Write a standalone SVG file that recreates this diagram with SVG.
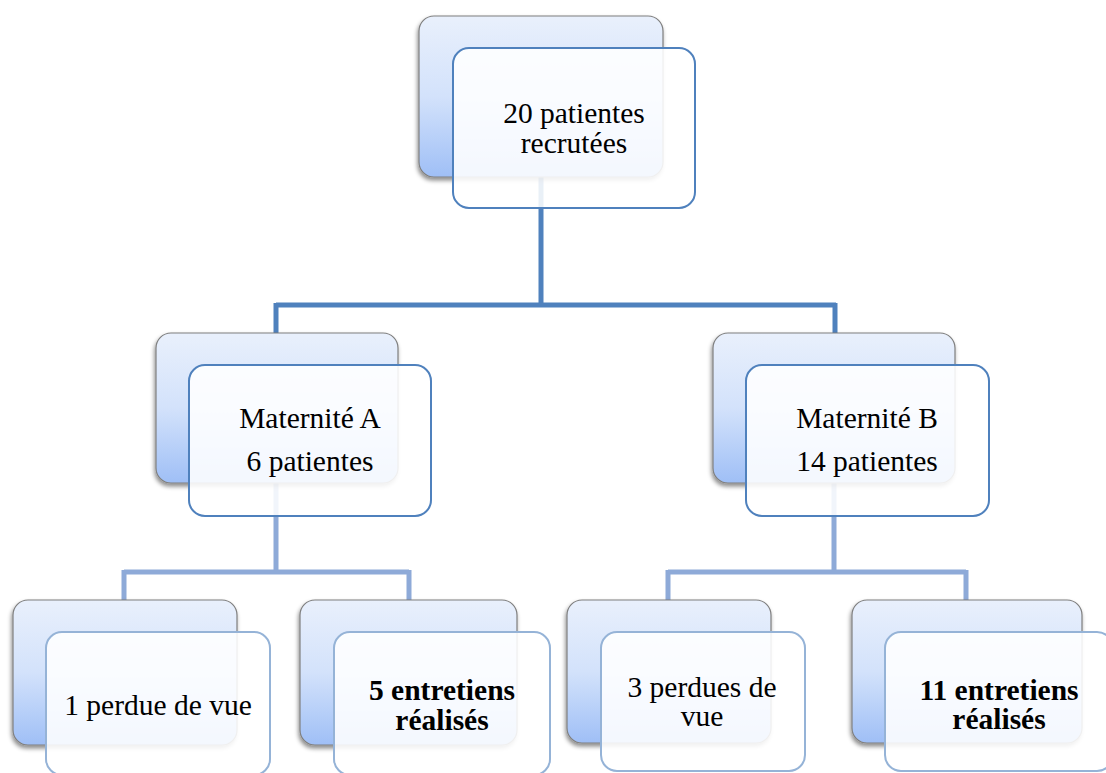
<svg xmlns="http://www.w3.org/2000/svg" width="1106" height="773" viewBox="0 0 1106 773">
<defs>
<linearGradient id="gBack" x1="0" y1="0" x2="0" y2="1">
<stop offset="0" stop-color="#e9f0fc"/>
<stop offset="0.5" stop-color="#d3e2fb"/>
<stop offset="1" stop-color="#9fbff6"/>
</linearGradient>
<filter id="shadow" x="-10%" y="-10%" width="120%" height="125%">
<feDropShadow dx="-1" dy="3" stdDeviation="2" flood-color="#000" flood-opacity="0.45"/>
</filter>
<style>
.back{fill:url(#gBack);stroke:#7f7f7f;stroke-width:1.2;filter:url(#shadow)}
.front{fill:#ffffff;fill-opacity:0.88;stroke:#4f81bd;stroke-width:2}
.front2{fill:#ffffff;fill-opacity:0.88;stroke:#95b3d7;stroke-width:2}
.t{font-family:'Liberation Serif',serif;font-size:29.5px;fill:#000;text-anchor:middle}
.b{font-weight:bold}
.c1{fill:none;stroke:#4f81bd;stroke-width:5}
.c2{fill:none;stroke:#8eaad8;stroke-width:5}
</style>
</defs>
<rect width="1106" height="773" fill="#ffffff"/>
<g id="connectors">
<path class="c1" d="M541,177 V305 M276,305 H836 M276,303 V333 M835,303 V333"/>
<path class="c2" d="M276,483 V572 M124,572 H409 M124,570 V600 M409,570 V600"/>
<path class="c2" d="M834,483 V572 M668,572 H966 M668,570 V600 M966,570 V600"/>
</g>
<g id="n-root">
<rect class="back" x="419" y="16" width="244" height="161" rx="15"/>
<rect class="front" x="453" y="48" width="242" height="160" rx="16"/>
<text class="t" x="574" y="123" font-family="Liberation Serif, serif">20 patientes</text>
<text class="t" x="574" y="153" font-family="Liberation Serif, serif">recrutées</text>
</g>
<g id="n-matA">
<rect class="back" x="156" y="333" width="242" height="150" rx="15"/>
<rect class="front" x="189" y="365" width="242" height="151" rx="16"/>
<text class="t" x="310" y="428" font-family="Liberation Serif, serif">Maternité A</text>
<text class="t" x="310" y="471" font-family="Liberation Serif, serif">6 patientes</text>
</g>
<g id="n-matB">
<rect class="back" x="713" y="333" width="242" height="150" rx="15"/>
<rect class="front" x="746" y="365" width="243" height="151" rx="16"/>
<text class="t" x="867" y="428" font-family="Liberation Serif, serif">Maternité B</text>
<text class="t" x="867" y="471" font-family="Liberation Serif, serif">14 patientes</text>
</g>
<g id="n-leaf1">
<rect class="back" x="13" y="600" width="224" height="145" rx="15"/>
<rect class="front2" x="46" y="632" width="224" height="143" rx="16"/>
<text class="t" x="158" y="715" font-family="Liberation Serif, serif">1 perdue de vue</text>
</g>
<g id="n-leaf2">
<rect class="back" x="300" y="600" width="217" height="145" rx="15"/>
<rect class="front2" x="334" y="632" width="216" height="143" rx="16"/>
<text class="t b" x="442" y="700" font-family="Liberation Serif, serif">5 entretiens</text>
<text class="t b" x="442" y="730" font-family="Liberation Serif, serif">réalisés</text>
</g>
<g id="n-leaf3">
<rect class="back" x="567" y="600" width="204" height="143" rx="15"/>
<rect class="front2" x="601" y="632" width="204" height="139" rx="16"/>
<text class="t" x="702" y="697" font-family="Liberation Serif, serif">3 perdues de</text>
<text class="t" x="702" y="726" font-family="Liberation Serif, serif">vue</text>
</g>
<g id="n-leaf4">
<rect class="back" x="852" y="600" width="230" height="143" rx="15"/>
<rect class="front2" x="885" y="632" width="228" height="139" rx="16"/>
<text class="t b" x="999" y="700" font-family="Liberation Serif, serif">11 entretiens</text>
<text class="t b" x="999" y="729" font-family="Liberation Serif, serif">réalisés</text>
</g>
</svg>
